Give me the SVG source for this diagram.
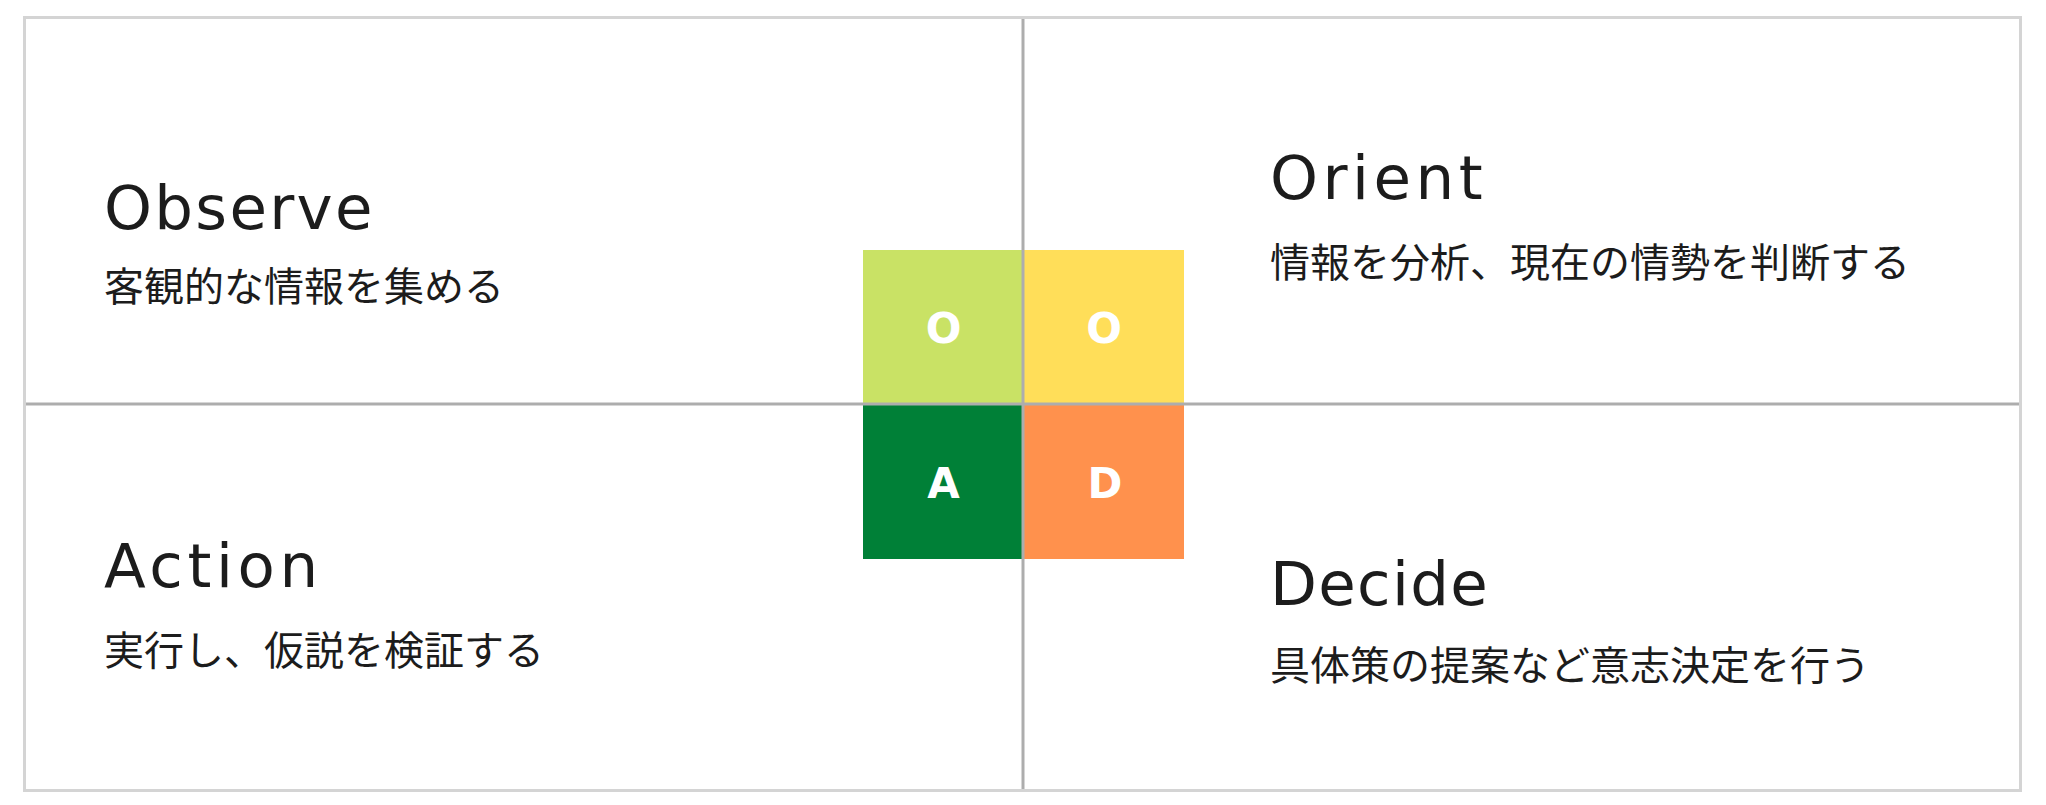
<svg xmlns="http://www.w3.org/2000/svg" width="2046" height="805" viewBox="0 0 2046 805">
<style>
.frame{fill:#ffffff;stroke:#d4d4d4;stroke-width:3}
.div{stroke:#adadad;stroke-width:3;fill:none}
.title{font-family:"DejaVu Sans",sans-serif;font-size:61px;letter-spacing:3.5px;fill:#1c1c1c}
.sub{font-family:"Noto Sans CJK JP","Noto Sans",sans-serif;font-size:40px;letter-spacing:0px;fill:#1c1c1c}
.tile-label{font-family:"DejaVu Sans",sans-serif;font-weight:bold;font-size:42px;fill:#ffffff;text-anchor:middle}
</style>
<rect class="frame" x="24.5" y="17.5" width="1996" height="773"/>
<g id="observe">
<text class="title" x="104" y="229" style="letter-spacing:2.3px">Observe</text>
<text class="sub" x="104" y="301">客観的な情報を集める</text>
</g>
<g id="orient">
<text class="title" x="1270" y="199" style="letter-spacing:4.5px">Orient</text>
<text class="sub" x="1270" y="277">情報を分析、現在の情勢を判断する</text>
</g>
<g id="action">
<text class="title" x="104" y="587" style="letter-spacing:4.6px">Action</text>
<text class="sub" x="104" y="665">実行し、仮説を検証する</text>
</g>
<g id="decide">
<text class="title" x="1270" y="605" style="letter-spacing:1.3px">Decide</text>
<text class="sub" x="1270" y="680">具体策の提案など意志決定を行う</text>
</g>
<g id="tile-o1">
<rect x="863" y="250" width="160" height="154" fill="#C9E265"/>
<text class="tile-label" x="943.5" y="343">O</text>
</g>
<g id="tile-o2">
<rect x="1023" y="250" width="161" height="154" fill="#FFDE59"/>
<text class="tile-label" x="1104" y="343">O</text>
</g>
<g id="tile-a">
<rect x="863" y="404" width="160" height="155" fill="#008037"/>
<text class="tile-label" x="943.5" y="498">A</text>
</g>
<g id="tile-d">
<rect x="1023" y="404" width="161" height="155" fill="#FF914D"/>
<text class="tile-label" x="1105" y="498">D</text>
</g>
<g id="connectors">
<line class="div" x1="1023" y1="19" x2="1023" y2="789"/>
<line class="div" x1="26" y1="404" x2="2019" y2="404"/>
</g>
</svg>
